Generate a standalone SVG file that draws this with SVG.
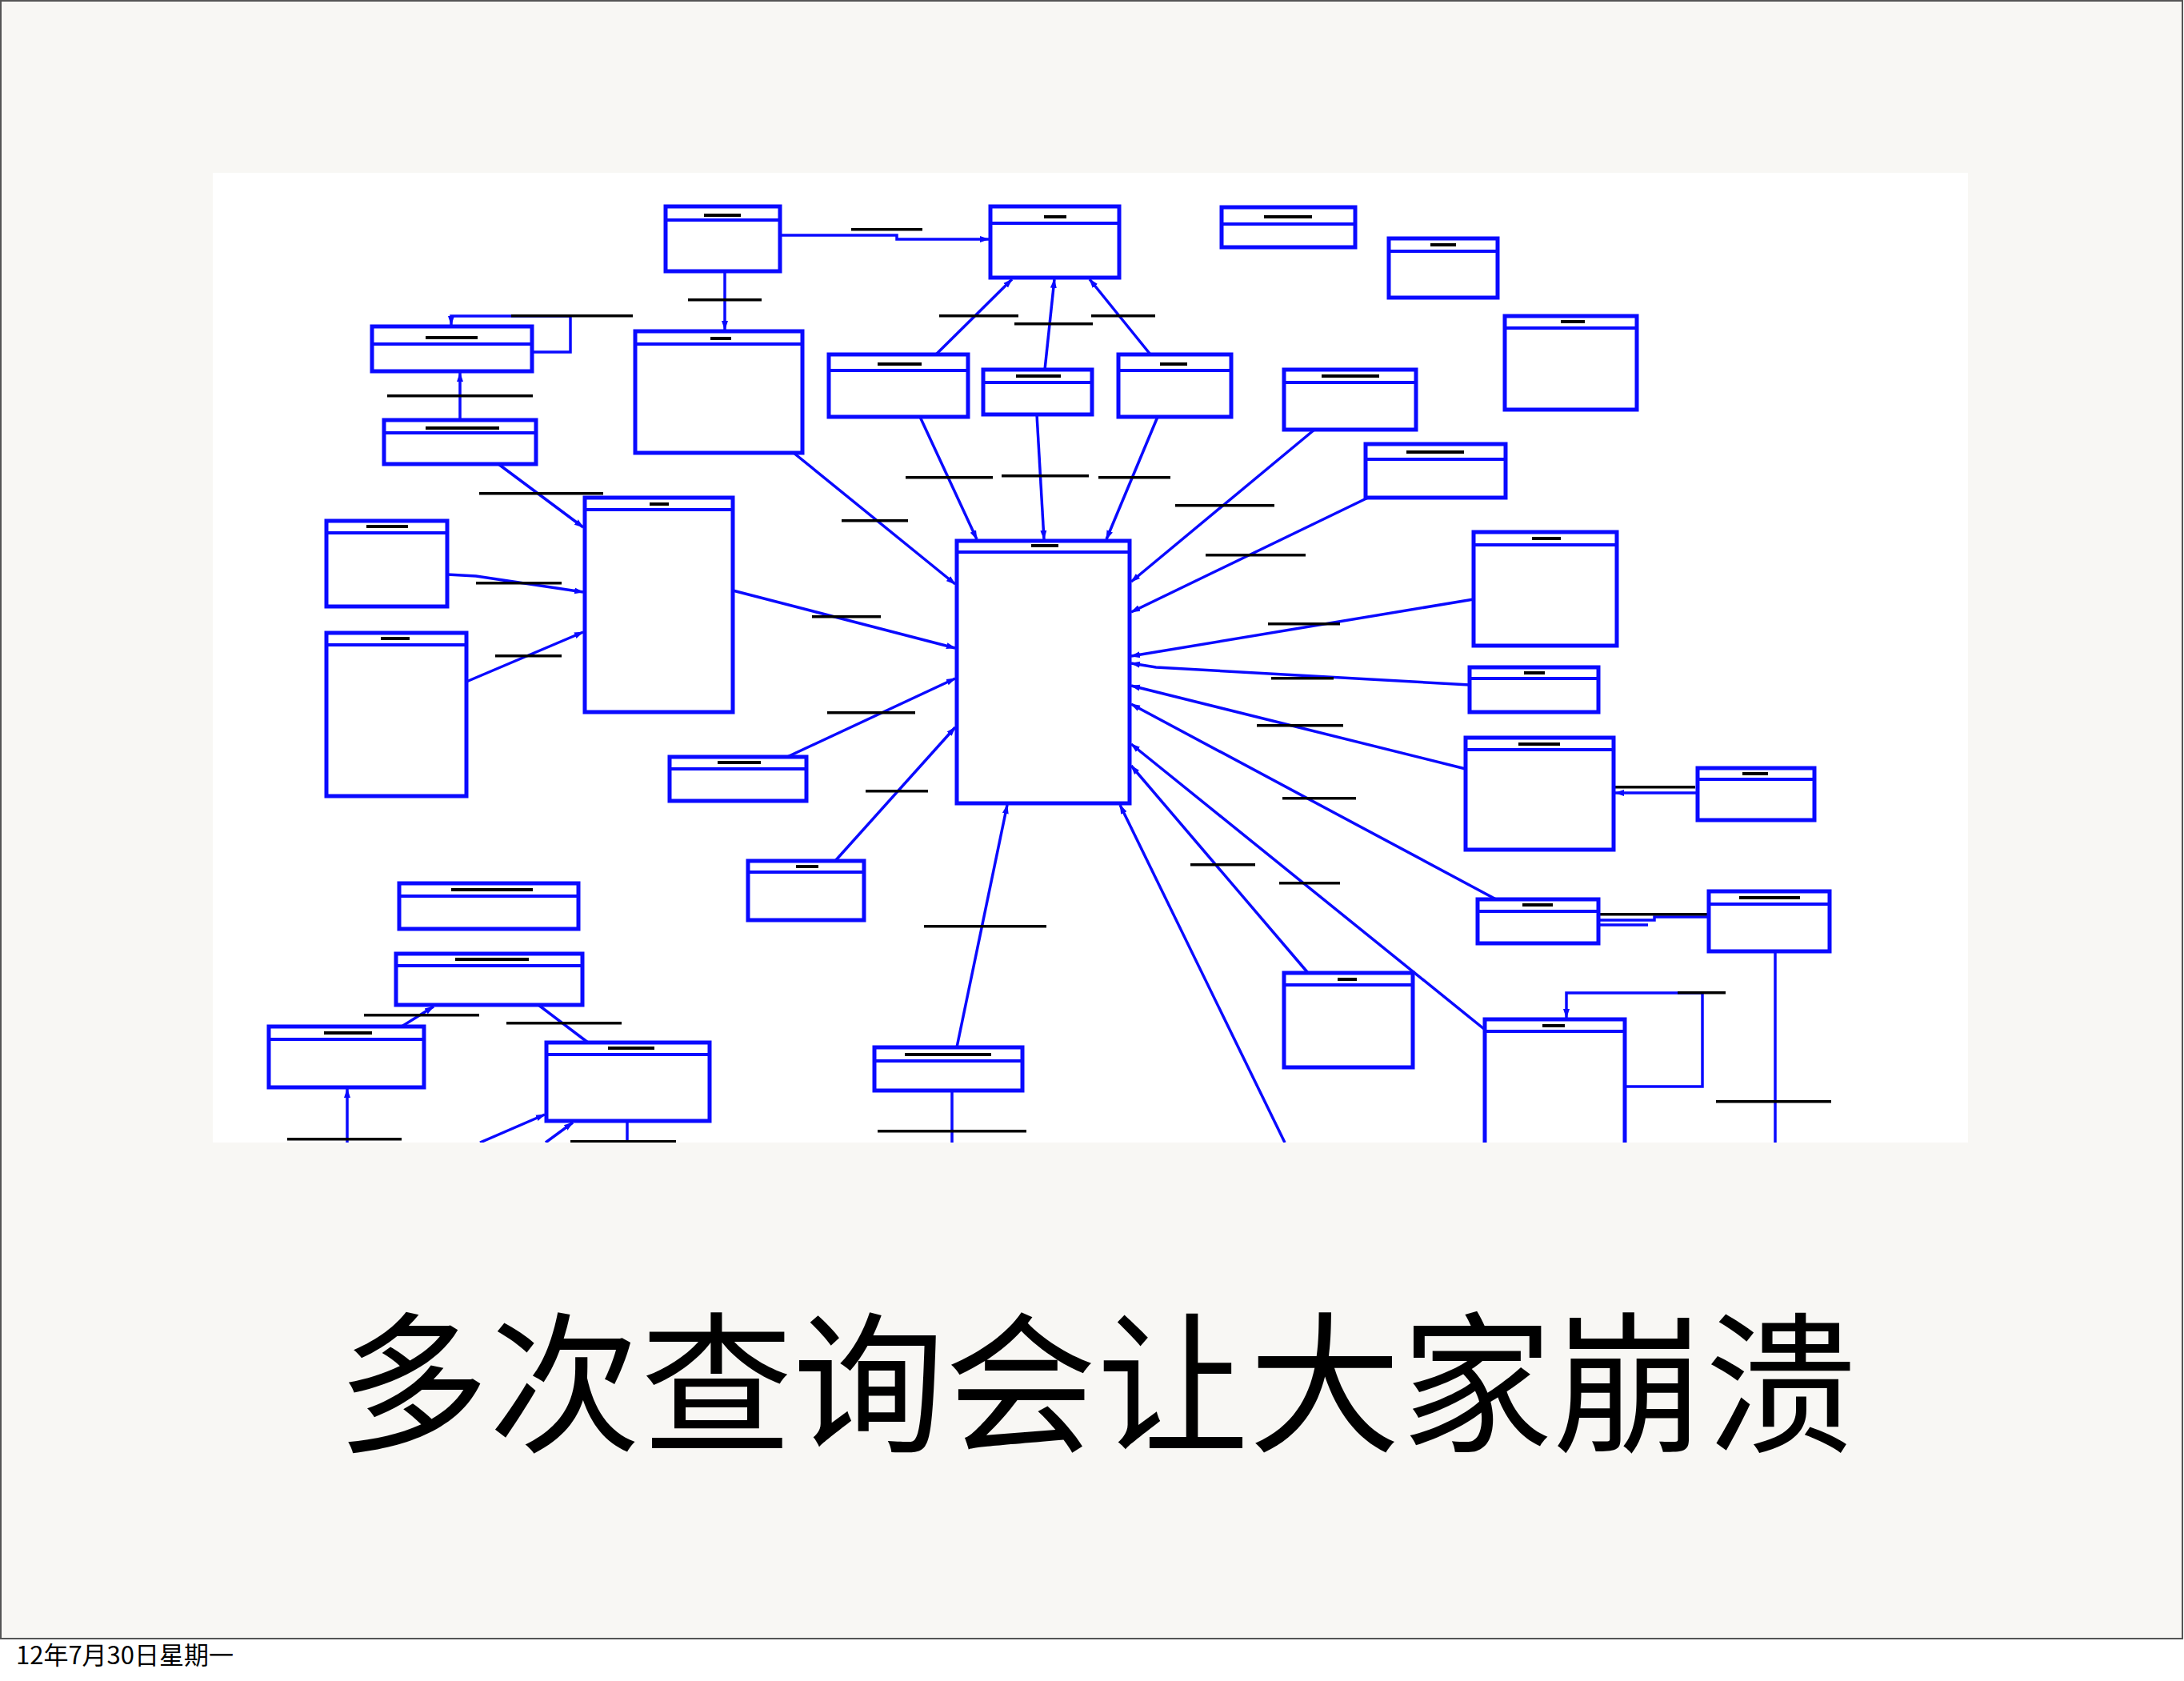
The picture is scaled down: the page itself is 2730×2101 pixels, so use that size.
<svg xmlns="http://www.w3.org/2000/svg" width="2730" height="2101" viewBox="0 0 2730 2101">
<style>
.nb{fill:#fff;stroke:#0a0aff;stroke-width:5}
.hd{stroke:#0a0aff;stroke-width:4}
.cn{fill:none;stroke:#0a0aff;stroke-width:3.5}
.lb{fill:#000}
.ttl{font-family:"Noto Sans CJK SC","Noto Sans CJK JP",sans-serif;font-weight:400}
</style>
<defs>
<marker id="ar" markerWidth="12" markerHeight="10" refX="11" refY="5" orient="auto" markerUnits="userSpaceOnUse"><path d="M0,1 L12,5 L0,9 Z" fill="#0a0aff"/></marker>
<clipPath id="clipImg"><rect x="266" y="216" width="2194" height="1212"/></clipPath>
</defs>
<rect x="0" y="0" width="2730" height="2101" fill="#ffffff"/>
<rect x="1" y="1" width="2727" height="2047" fill="#f8f7f4" stroke="#555" stroke-width="2"/>
<rect x="266" y="216" width="2194" height="1212" fill="#ffffff"/>
<g clip-path="url(#clipImg)">
<g id="connectors">
<polyline class="cn" points="975,294 1121,294 1121,299 1236,299" marker-end="url(#ar)"/>
<rect class="lb" x="1064" y="285" width="89" height="3.5"/>
<polyline class="cn" points="906,339 906,412" marker-end="url(#ar)"/>
<rect class="lb" x="860" y="373" width="92" height="3.5"/>
<polyline class="cn" points="665,440 713,440 713,395 564,395 564,406" marker-end="url(#ar)"/>
<rect class="lb" x="639" y="393" width="152" height="3.5"/>
<polyline class="cn" points="575,525 575,466" marker-end="url(#ar)"/>
<rect class="lb" x="484" y="493" width="182" height="3.5"/>
<polyline class="cn" points="623,580 729,659" marker-end="url(#ar)"/>
<rect class="lb" x="599" y="615" width="155" height="3.5"/>
<polyline class="cn" points="559,718 595,720 729,740" marker-end="url(#ar)"/>
<rect class="lb" x="595" y="727" width="107" height="3.5"/>
<polyline class="cn" points="583,852 729,790" marker-end="url(#ar)"/>
<rect class="lb" x="619" y="818" width="83" height="3.5"/>
<polyline class="cn" points="916,738 1194,810" marker-end="url(#ar)"/>
<rect class="lb" x="1015" y="769" width="86" height="3.5"/>
<polyline class="cn" points="992,566 1194,730" marker-end="url(#ar)"/>
<rect class="lb" x="1052" y="649" width="83" height="3.5"/>
<polyline class="cn" points="1170,443 1265,349" marker-end="url(#ar)"/>
<rect class="lb" x="1174" y="393" width="99" height="3.5"/>
<polyline class="cn" points="1306,462 1318,349" marker-end="url(#ar)"/>
<rect class="lb" x="1268" y="403" width="98" height="3.5"/>
<polyline class="cn" points="1438,443 1362,349" marker-end="url(#ar)"/>
<rect class="lb" x="1364" y="393" width="80" height="3.5"/>
<polyline class="cn" points="1150,521 1221,674" marker-end="url(#ar)"/>
<rect class="lb" x="1132" y="595" width="109" height="3.5"/>
<polyline class="cn" points="1296,518 1305,674" marker-end="url(#ar)"/>
<rect class="lb" x="1252" y="593" width="109" height="3.5"/>
<polyline class="cn" points="1447,521 1383,674" marker-end="url(#ar)"/>
<rect class="lb" x="1373" y="595" width="90" height="3.5"/>
<polyline class="cn" points="1643,537 1414,727" marker-end="url(#ar)"/>
<rect class="lb" x="1469" y="630" width="124" height="3.5"/>
<polyline class="cn" points="1710,622 1414,765" marker-end="url(#ar)"/>
<rect class="lb" x="1507" y="692" width="125" height="3.5"/>
<polyline class="cn" points="1842,749 1414,820" marker-end="url(#ar)"/>
<rect class="lb" x="1585" y="778" width="90" height="3.5"/>
<polyline class="cn" points="1837,856 1445,834 1414,829" marker-end="url(#ar)"/>
<rect class="lb" x="1589" y="846" width="78" height="3.5"/>
<polyline class="cn" points="1832,961 1414,857" marker-end="url(#ar)"/>
<rect class="lb" x="1571" y="905" width="108" height="3.5"/>
<polyline class="cn" points="1870,1124 1414,880" marker-end="url(#ar)"/>
<rect class="lb" x="1603" y="996" width="92" height="3.5"/>
<polyline class="cn" points="1855,1286 1414,930" marker-end="url(#ar)"/>
<rect class="lb" x="1599" y="1102" width="76" height="3.5"/>
<polyline class="cn" points="1635,1216 1414,957" marker-end="url(#ar)"/>
<rect class="lb" x="1488" y="1079" width="81" height="3.5"/>
<polyline class="cn" points="2122,991 2019,991" marker-end="url(#ar)"/>
<rect class="lb" x="2019" y="982" width="100" height="3.5"/>
<polyline class="cn" points="1998,1150 2068,1150 2068,1146 2136,1146"/>
<polyline class="cn" points="2000,1156 2060,1156"/>
<rect class="lb" x="1999" y="1141" width="136" height="3.5"/>
<polyline class="cn" points="2219,1189 2219,1428"/>
<rect class="lb" x="2145" y="1375" width="144" height="3.5"/>
<polyline class="cn" points="2031,1358 2128,1358 2128,1241 1958,1241 1958,1272" marker-end="url(#ar)"/>
<rect class="lb" x="2097" y="1239" width="60" height="3.5"/>
<polyline class="cn" points="984,946 1194,848" marker-end="url(#ar)"/>
<rect class="lb" x="1034" y="889" width="110" height="3.5"/>
<polyline class="cn" points="1044,1076 1194,909" marker-end="url(#ar)"/>
<rect class="lb" x="1082" y="987" width="78" height="3.5"/>
<polyline class="cn" points="1196,1309 1259,1006" marker-end="url(#ar)"/>
<rect class="lb" x="1155" y="1156" width="153" height="3.5"/>
<polyline class="cn" points="1190,1363 1190,1428"/>
<rect class="lb" x="1097" y="1412" width="186" height="3.5"/>
<polyline class="cn" points="1606,1428 1400,1006" marker-end="url(#ar)"/>
<polyline class="cn" points="502,1283 542,1258" marker-end="url(#ar)"/>
<rect class="lb" x="455" y="1267" width="144" height="3.5"/>
<polyline class="cn" points="735,1303 673,1256"/>
<rect class="lb" x="633" y="1277" width="144" height="3.5"/>
<polyline class="cn" points="434,1428 434,1361" marker-end="url(#ar)"/>
<rect class="lb" x="359" y="1422" width="143" height="3.5"/>
<polyline class="cn" points="600,1428 681,1393" marker-end="url(#ar)"/>
<polyline class="cn" points="682,1428 716,1403" marker-end="url(#ar)"/>
<polyline class="cn" points="784,1401 784,1428"/>
<rect class="lb" x="713" y="1425" width="132" height="3.5"/>
</g>
<g id="n_a"><rect class="nb" x="832" y="258" width="143" height="81"/><line class="hd" x1="832" y1="275" x2="975" y2="275"/><rect class="lb" x="880" y="267" width="46" height="4"/></g>
<g id="n_top"><rect class="nb" x="1238" y="258" width="161" height="89"/><line class="hd" x1="1238" y1="279" x2="1399" y2="279"/><rect class="lb" x="1305" y="269" width="28" height="4"/></g>
<g id="n_k"><rect class="nb" x="1527" y="259" width="167" height="50"/><line class="hd" x1="1527" y1="280" x2="1694" y2="280"/><rect class="lb" x="1580" y="269" width="60" height="4"/></g>
<g id="n_l"><rect class="nb" x="1736" y="298" width="136" height="74"/><line class="hd" x1="1736" y1="314" x2="1872" y2="314"/><rect class="lb" x="1788" y="304" width="32" height="4"/></g>
<g id="n_m"><rect class="nb" x="1881" y="395" width="165" height="117"/><line class="hd" x1="1881" y1="410" x2="2046" y2="410"/><rect class="lb" x="1951" y="400" width="30" height="4"/></g>
<g id="n_b"><rect class="nb" x="465" y="408" width="200" height="56"/><line class="hd" x1="465" y1="430" x2="665" y2="430"/><rect class="lb" x="532" y="420" width="65" height="4"/></g>
<g id="n_c"><rect class="nb" x="480" y="525" width="190" height="55"/><line class="hd" x1="480" y1="541" x2="670" y2="541"/><rect class="lb" x="532" y="533" width="92" height="4"/></g>
<g id="n_d"><rect class="nb" x="794" y="414" width="209" height="152"/><line class="hd" x1="794" y1="430" x2="1003" y2="430"/><rect class="lb" x="888" y="421" width="26" height="4"/></g>
<g id="n_h"><rect class="nb" x="1036" y="443" width="174" height="78"/><line class="hd" x1="1036" y1="463" x2="1210" y2="463"/><rect class="lb" x="1097" y="453" width="55" height="4"/></g>
<g id="n_i"><rect class="nb" x="1229" y="462" width="136" height="56"/><line class="hd" x1="1229" y1="478" x2="1365" y2="478"/><rect class="lb" x="1270" y="468" width="56" height="4"/></g>
<g id="n_j"><rect class="nb" x="1398" y="443" width="141" height="78"/><line class="hd" x1="1398" y1="463" x2="1539" y2="463"/><rect class="lb" x="1450" y="453" width="34" height="4"/></g>
<g id="n_n"><rect class="nb" x="1605" y="462" width="165" height="75"/><line class="hd" x1="1605" y1="478" x2="1770" y2="478"/><rect class="lb" x="1652" y="468" width="72" height="4"/></g>
<g id="n_o"><rect class="nb" x="1707" y="555" width="175" height="67"/><line class="hd" x1="1707" y1="574" x2="1882" y2="574"/><rect class="lb" x="1758" y="563" width="72" height="4"/></g>
<g id="n_e"><rect class="nb" x="731" y="622" width="185" height="268"/><line class="hd" x1="731" y1="637" x2="916" y2="637"/><rect class="lb" x="812" y="628" width="24" height="4"/></g>
<g id="n_f"><rect class="nb" x="408" y="651" width="151" height="107"/><line class="hd" x1="408" y1="666" x2="559" y2="666"/><rect class="lb" x="458" y="656" width="52" height="4"/></g>
<g id="n_g"><rect class="nb" x="408" y="791" width="175" height="204"/><line class="hd" x1="408" y1="806" x2="583" y2="806"/><rect class="lb" x="476" y="796" width="36" height="4"/></g>
<g id="n_center"><rect class="nb" x="1196" y="676" width="216" height="328"/><line class="hd" x1="1196" y1="690" x2="1412" y2="690"/><rect class="lb" x="1289" y="680" width="34" height="4"/></g>
<g id="n_p"><rect class="nb" x="1842" y="665" width="179" height="142"/><line class="hd" x1="1842" y1="681" x2="2021" y2="681"/><rect class="lb" x="1915" y="671" width="36" height="4"/></g>
<g id="n_q"><rect class="nb" x="1837" y="834" width="161" height="56"/><line class="hd" x1="1837" y1="848" x2="1998" y2="848"/><rect class="lb" x="1905" y="839" width="26" height="4"/></g>
<g id="n_r"><rect class="nb" x="1832" y="922" width="185" height="140"/><line class="hd" x1="1832" y1="937" x2="2017" y2="937"/><rect class="lb" x="1898" y="928" width="52" height="4"/></g>
<g id="n_s"><rect class="nb" x="2122" y="960" width="146" height="65"/><line class="hd" x1="2122" y1="974" x2="2268" y2="974"/><rect class="lb" x="2178" y="965" width="32" height="4"/></g>
<g id="n_y"><rect class="nb" x="837" y="946" width="171" height="55"/><line class="hd" x1="837" y1="961" x2="1008" y2="961"/><rect class="lb" x="897" y="951" width="54" height="4"/></g>
<g id="n_z"><rect class="nb" x="935" y="1076" width="145" height="74"/><line class="hd" x1="935" y1="1090" x2="1080" y2="1090"/><rect class="lb" x="995" y="1081" width="28" height="4"/></g>
<g id="n_t"><rect class="nb" x="1847" y="1124" width="151" height="55"/><line class="hd" x1="1847" y1="1139" x2="1998" y2="1139"/><rect class="lb" x="1903" y="1129" width="38" height="4"/></g>
<g id="n_u"><rect class="nb" x="2136" y="1114" width="151" height="75"/><line class="hd" x1="2136" y1="1130" x2="2287" y2="1130"/><rect class="lb" x="2174" y="1120" width="76" height="4"/></g>
<g id="n_aa"><rect class="nb" x="499" y="1104" width="224" height="57"/><line class="hd" x1="499" y1="1120" x2="723" y2="1120"/><rect class="lb" x="564" y="1110" width="102" height="4"/></g>
<g id="n_bb"><rect class="nb" x="495" y="1192" width="233" height="64"/><line class="hd" x1="495" y1="1207" x2="728" y2="1207"/><rect class="lb" x="569" y="1197" width="92" height="4"/></g>
<g id="n_v"><rect class="nb" x="1605" y="1216" width="161" height="118"/><line class="hd" x1="1605" y1="1231" x2="1766" y2="1231"/><rect class="lb" x="1672" y="1222" width="24" height="4"/></g>
<g id="n_w"><rect class="nb" x="1856" y="1274" width="175" height="200"/><line class="hd" x1="1856" y1="1289" x2="2031" y2="1289"/><rect class="lb" x="1928" y="1280" width="28" height="4"/></g>
<g id="n_cc"><rect class="nb" x="336" y="1283" width="194" height="76"/><line class="hd" x1="336" y1="1299" x2="530" y2="1299"/><rect class="lb" x="405" y="1289" width="60" height="4"/></g>
<g id="n_dd"><rect class="nb" x="683" y="1303" width="204" height="98"/><line class="hd" x1="683" y1="1318" x2="887" y2="1318"/><rect class="lb" x="760" y="1308" width="58" height="4"/></g>
<g id="n_x"><rect class="nb" x="1093" y="1309" width="185" height="54"/><line class="hd" x1="1093" y1="1326" x2="1278" y2="1326"/><rect class="lb" x="1131" y="1316" width="108" height="4"/></g>
</g>
<text class="ttl" x="1371" y="1800" font-size="190" text-anchor="middle" fill="#000">多次查询会让大家崩溃</text>
<text class="ttl" x="20" y="2080" font-size="31" fill="#000">12年7月30日星期一</text>
</svg>
